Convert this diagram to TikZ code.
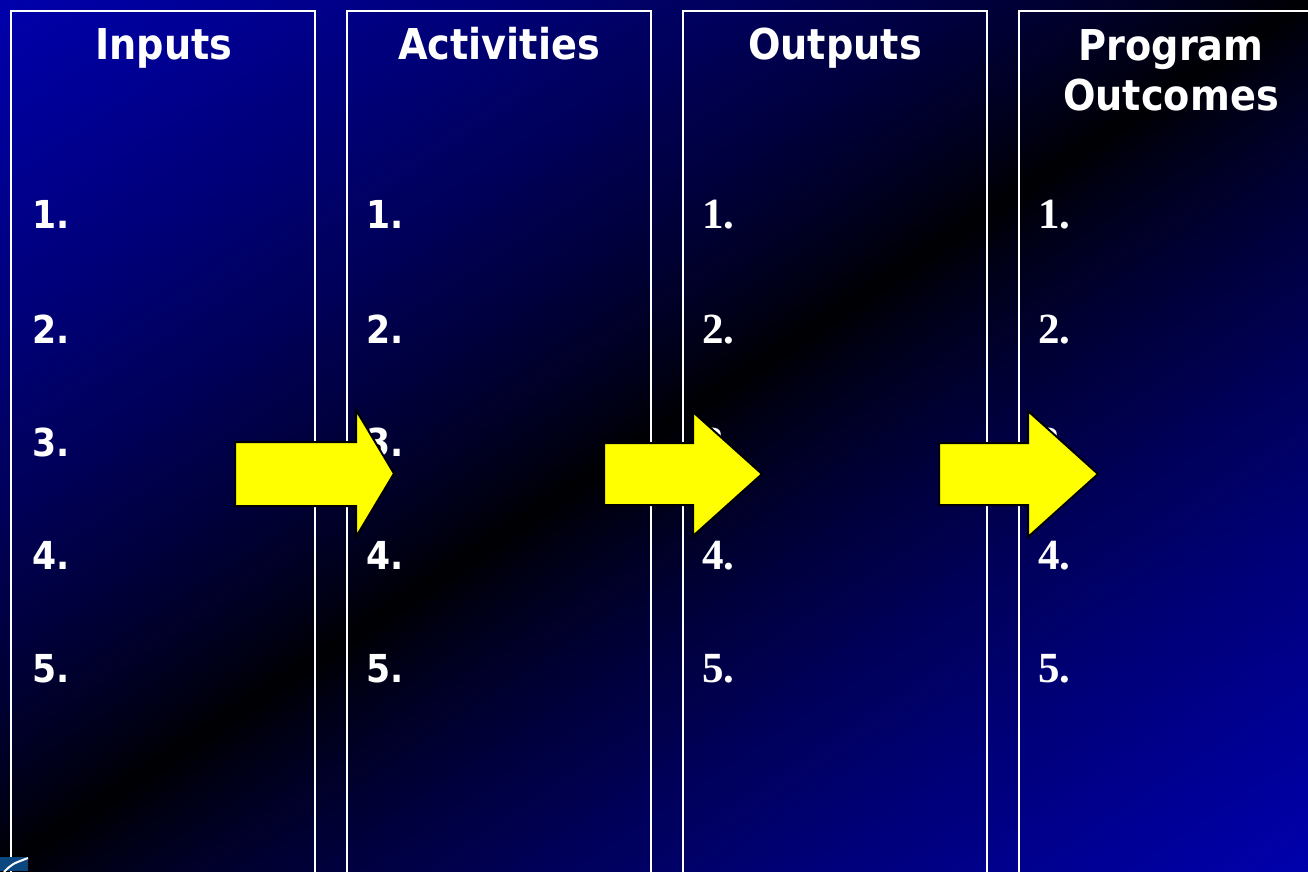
\documentclass[tikz,border=0pt]{standalone}
\usepackage{fontspec}
\newfontfamily\tah{DejaVu Sans}[FakeStretch=0.9]
\newfontfamily\tms{Liberation Serif}
\definecolor{bgblue}{RGB}{0,0,172}
\definecolor{arrowyellow}{RGB}{255,255,0}
\definecolor{logoblue}{RGB}{12,72,128}
\tikzset{
  colbox/.style={draw=white, line width=2pt},
  coltitle/.style={text=white, inner sep=0pt, anchor=base, font=\tah\bfseries\fontsize{42.5}{50}\selectfont},
  numsans/.style={text=white, inner sep=0pt, anchor=base west, font=\tah\bfseries\fontsize{38.5}{46}\selectfont},
  numserif/.style={text=white, inner sep=0pt, anchor=base west, font=\tms\bfseries\fontsize{43}{48}\selectfont},
  yarrow/.style={fill=arrowyellow, draw=black, line width=2pt, line join=miter}
}
\begin{document}
\begin{tikzpicture}[x=1pt,y=-1pt]
\useasboundingbox (0,0) rectangle (1308,871);
\clip (0,0) rectangle (1308,871);
% diagonal background gradient: blue corners, black along the rising diagonal
\foreach \i in {0,...,159}{
  \pgfmathsetmacro\ta{\i/80}
  \pgfmathsetmacro\tb{(\i+1)/80}
  \pgfmathsetmacro\lvl{100*pow(abs((\i+0.5)/80-1),0.75)}
  \path[fill=bgblue!\lvl!black, draw=bgblue!\lvl!black, line width=0.8pt]
    ({\ta*1308+1308},-871) -- ({\ta*1308-2616},1742) -- ({\tb*1308-2616},1742) -- ({\tb*1308+1308},-871) -- cycle;
}
% columns
\draw[colbox] (11,11) rectangle (315,890);
\draw[colbox] (347,11) rectangle (651,890);
\draw[colbox] (683,11) rectangle (987,890);
\draw[colbox] (1019,11) rectangle (1323,890);
% titles
\node[coltitle] (t1) at (164,59) {Inputs};
\node[coltitle] (t2) at (499,59) {Activities};
\node[coltitle] (t3) at (835,59) {Outputs};
\node[coltitle] (t4a) at (1171,60) {Program};
\node[coltitle] (t4b) at (1171,110) {Outcomes};
% numbers
\foreach \n/\y in {1/228,2/343,3/456,4/569,5/682}{
  \node[numsans] (a\n) at (32,\y) {\n.};
  \node[numsans] (b\n) at (366,\y) {\n.};
  \node[numserif] (c\n) at (702,\y) {\n.};
  \node[numserif] (d\n) at (1038,\y) {\n.};
}
% arrows
\draw[yarrow] (235,442) -- (356,442) -- (356,410) -- (394,473.5) -- (356,537) -- (356,506) -- (235,506) -- cycle;
\draw[yarrow] (604,443) -- (693,443) -- (693,412) -- (762,474) -- (693,536) -- (693,505) -- (604,505) -- cycle;
\draw[yarrow] (939,443) -- (1028,443) -- (1028,411) -- (1098,474) -- (1028,537) -- (1028,505) -- (939,505) -- cycle;
% logo fragment
\fill[logoblue] (0,857) rectangle (28,871);
\draw[white, line width=2pt] (4,872) .. controls (12,864) .. (28,858);
\end{tikzpicture}
\end{document}
